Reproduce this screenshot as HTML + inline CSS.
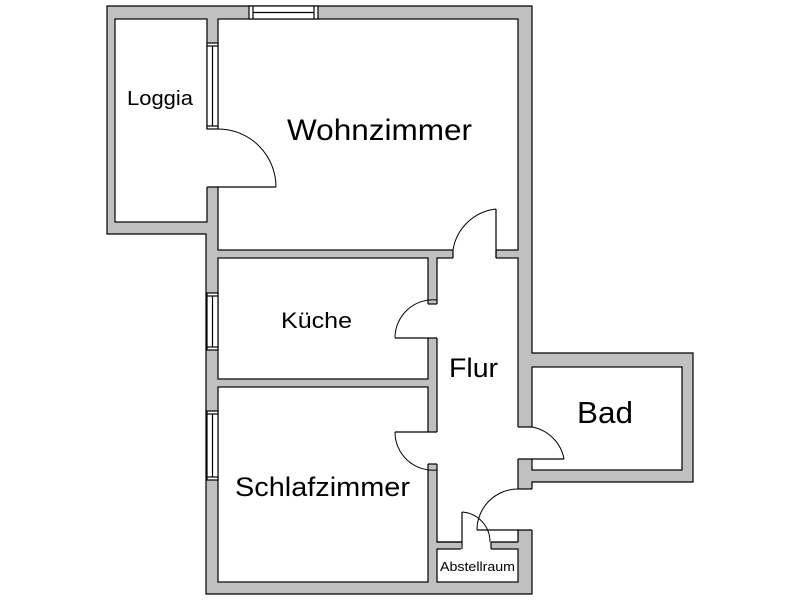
<!DOCTYPE html>
<html><head><meta charset="utf-8"><style>
html,body{margin:0;padding:0;background:#fff;width:800px;height:600px;overflow:hidden}
text{font-family:"Liberation Sans",Arial,sans-serif;fill:#000}
</style></head><body>
<svg width="800" height="600" viewBox="0 0 800 600" xmlns="http://www.w3.org/2000/svg">
<g stroke="#000" stroke-width="1.2">
<polygon points="107,6 532,6 532,353 693,353 693,482 532,482 532,594 206,594 206,234 107,234" fill="#c0c0c0"/>
<g fill="#fff">
<rect x="115" y="19" width="92" height="203"/>
<rect x="218" y="19" width="300" height="231"/>
<rect x="218" y="258" width="210" height="121"/>
<rect x="218" y="387" width="210" height="195"/>
<rect x="437" y="258" width="81" height="284"/>
<rect x="532" y="367" width="150" height="103"/>
<rect x="437" y="549" width="81" height="33"/>
</g>
</g>
<!-- gaps -->
<g fill="#fff" stroke="none">
<rect x="453" y="248" width="43" height="12"/>
<rect x="205" y="129" width="15" height="58"/>
<rect x="426" y="304" width="13" height="34"/>
<rect x="426" y="432" width="13" height="32"/>
<rect x="516" y="427" width="18" height="32"/>
<rect x="516" y="489" width="18" height="41"/>
<rect x="490" y="530" width="28.5" height="12.5"/>
<rect x="461" y="540" width="30" height="11"/>
</g>
<g stroke="#000" stroke-width="1.2" fill="none">
<line x1="453" y1="250" x2="453" y2="258"/><line x1="496" y1="250" x2="496" y2="258"/>
<line x1="207" y1="187" x2="276" y2="187"/>
<line x1="428" y1="304" x2="437" y2="304"/><line x1="395" y1="338" x2="437" y2="338"/>
<line x1="395" y1="432" x2="437" y2="432"/><line x1="428" y1="464" x2="437" y2="464"/>
<line x1="518" y1="427" x2="532" y2="427"/><line x1="518" y1="459" x2="564" y2="459"/>
<line x1="518" y1="489" x2="532" y2="489"/><line x1="477" y1="530" x2="532" y2="530"/>
<line x1="518" y1="530" x2="518" y2="542"/>
<line x1="437" y1="542" x2="462" y2="542"/><line x1="491" y1="542" x2="518" y2="542"/>
<line x1="462" y1="512" x2="462" y2="549"/><line x1="491" y1="542" x2="491" y2="549"/>
<line x1="496" y1="209" x2="496" y2="258"/>
<path d="M496,209 A49,49 0 0 0 453,250" stroke-width="1"/>
<path d="M218,129 A58,58 0 0 1 276,187" stroke-width="1"/>
<path d="M437,300 A38,38 0 0 0 395,338" stroke-width="1"/>
<path d="M395,432 A38,38 0 0 0 437,470" stroke-width="1"/>
<path d="M532,427 A40,40 0 0 1 564,459" stroke-width="1"/>
<path d="M518,489 A41,41 0 0 0 477,530" stroke-width="1"/>
<path d="M462,512 A30,30 0 0 1 490,542" stroke-width="1"/>
</g>
<g stroke="#000" stroke-width="1.2">
<rect x="249" y="6" width="69" height="13" fill="#fff"/>
<line x1="253" y1="6" x2="253" y2="19"/><line x1="314" y1="6" x2="314" y2="19"/>
<line x1="253" y1="12.5" x2="314" y2="12.5"/>
<rect x="207" y="43" width="11" height="86" fill="#fff"/>
<line x1="207" y1="46" x2="218" y2="46"/><line x1="207" y1="126" x2="218" y2="126"/>
<line x1="212.5" y1="46" x2="212.5" y2="126"/>
<rect x="207" y="293" width="11" height="57" fill="#fff"/>
<line x1="207" y1="296" x2="218" y2="296"/><line x1="207" y1="347" x2="218" y2="347"/>
<line x1="212.5" y1="296" x2="212.5" y2="347"/>
<rect x="207" y="411" width="11" height="69" fill="#fff"/>
<line x1="207" y1="414" x2="218" y2="414"/><line x1="207" y1="477" x2="218" y2="477"/>
<line x1="212.5" y1="414" x2="212.5" y2="477"/>
</g>
<text x="127" y="105" font-size="20" textLength="66" lengthAdjust="spacingAndGlyphs">Loggia</text>
<text x="287" y="140" font-size="30" textLength="185" lengthAdjust="spacingAndGlyphs">Wohnzimmer</text>
<text x="281" y="328" font-size="22" textLength="71" lengthAdjust="spacingAndGlyphs">Küche</text>
<text x="449" y="377" font-size="27" textLength="49" lengthAdjust="spacingAndGlyphs">Flur</text>
<text x="577" y="423" font-size="31" textLength="56" lengthAdjust="spacingAndGlyphs">Bad</text>
<text x="235" y="496" font-size="27" textLength="175" lengthAdjust="spacingAndGlyphs">Schlafzimmer</text>
<text x="440" y="571" font-size="13" textLength="75" lengthAdjust="spacingAndGlyphs">Abstellraum</text>
</svg>
</body></html>
